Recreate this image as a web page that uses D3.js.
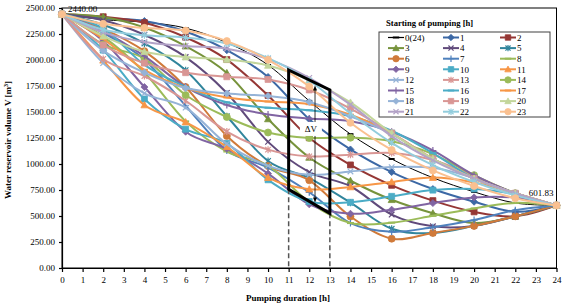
<!DOCTYPE html>
<html><head><meta charset="utf-8">
<script src="https://cdn.jsdelivr.net/npm/d3@7/dist/d3.min.js"></script>
<style>
body{margin:0;background:#fff}
svg{display:block}
text{font-family:"Liberation Serif","Times New Roman",serif;fill:#000}
</style>
</head><body>
<svg id="c" width="563" height="307"></svg>
<script>
// ---------- data ----------
const hours = [0,2,4,6,8,10,12,14,16,18,20,22,24];
const xTicks = d3.range(0,25,1);
const yTicks = [0,250,500,750,1000,1250,1500,1750,2000,2250,2500];
const seriesNames = ["0(24)","1","2","3","4","5","6","7","8","9","10","11","12","13","14","15","16","17","18","19","20","21","22","23"];

const s0  = [2440,2388,2364,2307,2167,1952,1607,1287,1048,868,732,625,601.83];
const s1  = [2440,2401,2375,2274,2094,1837,1431,1140,922,759,637,541,601.83];
const s2  = [2440,2416,2359,2219,2004,1659,1252,991,795,648,540,497,601.83];
const s3  = [2440,2414,2313,2133,1876,1433,1063,839,656,527,432,497,601.83];
const s4  = [2440,2383,2243,2028,1683,1213,923,786,514,401,405,497,601.83];
const s5  = [2440,2339,2159,1902,1459,1029,865,628,377,337,405,497,601.83];
const s6  = [2440,2300,2085,1740,1270,980,843,495,282,337,405,497,601.83];
const s7  = [2440,2260,2003,1560,1130,966,728,432,348,392,461,556,601.83];
const s8  = [2440,2225,1880,1410,1120,983,633,432,436,502,573,626,601.83];
const s9  = [2440,2183,1740,1310,1146,908,612,522,561,624,679,677,601.83];
const s10 = [2440,2095,1625,1335,1198,848,639,632,689,749,760,708,601.83];
const s11 = [2440,1997,1567,1403,1165,869,758,779,827,869,822,719,601.83];
const s12 = [2440,1970,1680,1543,1193,982,896,928,970,963,864,719,601.83];
const s13 = [2440,2010,1846,1608,1312,1138,1073,1089,1106,1039,886,719,601.83];
const s14 = [2440,2150,2013,1663,1452,1303,1251,1253,1218,1095,893,719,601.83];
const s15 = [2440,2276,2038,1742,1568,1476,1437,1411,1310,1130,893,719,601.83];
const s16 = [2440,2303,1953,1742,1593,1541,1517,1460,1320,1105,861,719,601.83];
const s17 = [2440,2202,1906,1732,1640,1601,1575,1474,1294,1050,860,719,601.83];
const s18 = [2440,2090,1879,1730,1678,1654,1597,1458,1287,1050,860,719,601.83];
const s19 = [2440,2144,1970,1878,1839,1813,1712,1533,1298,1050,860,719,601.83];
const s20 = [2440,2229,2080,2028,2004,1947,1807,1592,1298,1050,860,719,601.83];
const s21 = [2440,2266,2174,2135,2109,2008,1828,1571,1266,1035,859,719,601.83];
const s22 = [2440,2291,2239,2215,2158,2018,1803,1487,1204,990,827,698,601.83];
const s23 = [2440,2348,2309,2283,2182,2002,1745,1396,1135,938,789,671,601.83];
const allSeries = [s0,s1,s2,s3,s4,s5,s6,s7,s8,s9,s10,s11,s12,s13,s14,s15,s16,s17,s18,s19,s20,s21,s22,s23];

const colors = ["#000000","#3C68A5","#953735","#77933C","#604A7B","#31859C","#D07A3A","#4F81BD",
                "#9BBB59","#8064A2","#4BACC6","#F79646","#95B3D7","#D99694","#9BBB59","#8064A2",
                "#4BACC6","#F79646","#95B3D7","#D99694","#C3D69B","#B3A2C7","#93CDDD","#FAC090"];
const markers = ["dash","diamond","square","triangle","x","star","circle","plus",
                 "dash","diamond","square","triangle","x","star","circle","plus",
                 "dash","dash","diamond","square","triangle","x","star","circle"];

// annotation (data units)
const boxCorners = [[11,1904],[13,1712],[13,526],[11,757]];
const guideLines = [[11,757],[13,526]];
const arrowX = 12.28, arrowTop = 1755, arrowBottom = 630;
const deltaLabel = {x:12.08, v:1337, text:"ΔV"};
const startLabel = "2440.00", endLabel = "601.83";

// ---------- layout ----------
const svg = d3.select("#c");
const x = d3.scaleLinear().domain([0,24]).range([62,556.5]);
const y = d3.scaleLinear().domain([0,2500]).range([268,8]);

// plot area border
svg.append("rect").attr("x",x(0)).attr("y",y(2500)).attr("width",x(24)-x(0)).attr("height",y(0)-y(2500))
  .attr("fill","none").attr("stroke","#000").attr("stroke-width",1);

// axes
const yAxis = svg.append("g").attr("transform",`translate(${x(0)},0)`)
  .call(d3.axisLeft(y).tickValues(yTicks).tickFormat(d3.format(".2f")).tickSize(3).tickSizeOuter(0));
const xAxis = svg.append("g").attr("transform",`translate(0,${y(0)})`)
  .call(d3.axisBottom(x).tickValues(xTicks).tickFormat(d3.format("d")).tickSize(4).tickSizeOuter(0));
[yAxis,xAxis].forEach(a=>{
  a.selectAll("path,line").attr("stroke","#000").attr("stroke-width",1.2);
  a.selectAll("text").attr("font-family","Liberation Serif").attr("font-size",9).attr("fill","#000");
});
yAxis.selectAll("text").attr("dx",-1);
xAxis.selectAll("text").attr("dy","0.9em");

// axis titles
svg.append("text").attr("x",288).attr("y",301).attr("text-anchor","middle")
  .attr("font-size",9).attr("font-weight","bold").text("Pumping duration [h]");
const yt = svg.append("text").attr("transform","translate(11,140) rotate(-90)").attr("text-anchor","middle")
  .attr("font-size",9).attr("font-weight","bold");
yt.append("tspan").text("Water reservoir volume V [m");
yt.append("tspan").attr("font-size",6).attr("baseline-shift","super").text("3");
yt.append("tspan").text("]");

// markers
function markerPath(type, r){
  switch(type){
    case "diamond": return `M0,${-r}L${r},0L0,${r}L${-r},0Z`;
    case "square": {const h=r*0.85; return `M${-h},${-h}H${h}V${h}H${-h}Z`;}
    case "triangle": return `M0,${-r}L${r},${r*0.8}L${-r},${r*0.8}Z`;
    case "circle": return `M${r},0A${r},${r} 0 1,1 ${-r},0A${r},${r} 0 1,1 ${r},0Z`;
    case "x": {const h=r*0.8; return `M${-h},${-h}L${h},${h}M${-h},${h}L${h},${-h}`;}
    case "star": {const h=r*0.8; return `M${-h},${-h}L${h},${h}M${-h},${h}L${h},${-h}M0,${-r}V${r}`;}
    case "plus": return `M${-r},0H${r}M0,${-r}V${r}`;
    case "dash": return `M${-r},0H${r}`;
  }
}
function drawMarker(g, type, color, px, py, r){
  const filled = ["diamond","square","triangle","circle"].includes(type);
  g.append("path").attr("d",markerPath(type,r)).attr("transform",`translate(${px},${py})`)
    .attr("fill",filled?color:"none").attr("stroke",color)
    .attr("stroke-width", filled?0.8:(type==="dash"?2:1.2));
}

// series
const line = d3.line().x((d,i)=>x(hours[i])).y(d=>y(d)).curve(d3.curveCardinal.tension(0));
const gS = svg.append("g");
allSeries.forEach((vals,k)=>{
  const g = gS.append("g");
  g.append("path").attr("d",line(vals)).attr("fill","none").attr("stroke",colors[k])
    .attr("stroke-width",k===0?1:2);
  vals.forEach((v,i)=>drawMarker(g,markers[k],colors[k],x(hours[i]),y(v),k===0?3:3.5));
});

// data labels
svg.append("text").attr("x",x(0)+6).attr("y",y(2440)-2).attr("font-size",9).text(startLabel);
svg.append("text").attr("x",x(24)-3).attr("y",y(601.83)-9).attr("text-anchor","end").attr("font-size",9).text(endLabel);

// annotation: dashed guides, box, arrow
guideLines.forEach(([gx,gv])=>{
  svg.append("line").attr("x1",x(gx)).attr("x2",x(gx)).attr("y1",y(gv)).attr("y2",y(0))
    .attr("stroke","#555").attr("stroke-width",1.5).attr("stroke-dasharray","5,3");
});
svg.append("path").attr("d","M"+boxCorners.map(([a,b])=>`${x(a)},${y(b)}`).join("L")+"Z")
  .attr("fill","none").attr("stroke","#000").attr("stroke-width",3).attr("stroke-linejoin","miter");
const ax = x(arrowX), at = y(arrowTop), ab = y(arrowBottom);
svg.append("line").attr("x1",ax).attr("x2",ax).attr("y1",at+3).attr("y2",ab-3).attr("stroke","#000").attr("stroke-width",0.8);
svg.append("path").attr("d",`M${ax},${at}L${ax-2},${at+5}L${ax+2},${at+5}Z`).attr("fill","#000");
svg.append("path").attr("d",`M${ax},${ab}L${ax-2},${ab-5}L${ax+2},${ab-5}Z`).attr("fill","#000");
svg.append("rect").attr("x",x(deltaLabel.x)-11).attr("y",y(deltaLabel.v)-7).attr("width",22).attr("height",14).attr("fill","#fff");
svg.append("text").attr("x",x(deltaLabel.x)).attr("y",y(deltaLabel.v)+3).attr("text-anchor","middle")
  .attr("font-size",9).text(deltaLabel.text);

// legend
svg.append("text").attr("x",386).attr("y",26).attr("font-size",8.6).attr("font-weight","bold").text("Starting of pumping  [h]");
svg.append("rect").attr("x",379).attr("y",32).attr("width",171).attr("height",85)
  .attr("fill","#fff").attr("stroke","#404040").attr("stroke-width",1);
const colX = [388,443,500];
seriesNames.forEach((name,k)=>{
  const cx = colX[k%3], cy = 37.5 + Math.floor(k/3)*10.6;
  const g = svg.append("g");
  g.append("line").attr("x1",cx).attr("x2",cx+16).attr("y1",cy).attr("y2",cy)
    .attr("stroke",colors[k]).attr("stroke-width",k===0?1.2:2);
  drawMarker(g,markers[k],colors[k],cx+8,cy,3.2);
  g.append("text").attr("x",cx+17).attr("y",cy+3.3).attr("font-size",9).text(name);
});
</script>
</body></html>
